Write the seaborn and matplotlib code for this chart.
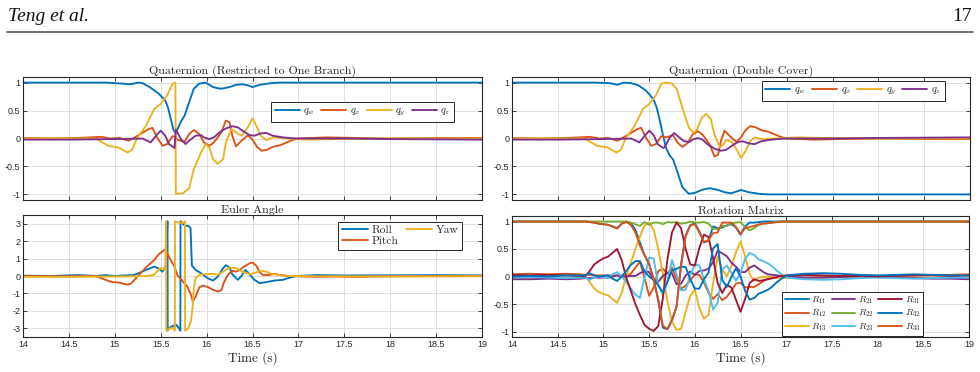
import numpy as np
import pandas as pd
import matplotlib
matplotlib.use("Agg")
import matplotlib.pyplot as plt
from matplotlib.lines import Line2D
import seaborn as sns

# ---------------- data ----------------
x_ticks = [14, 14.5, 15, 15.5, 16, 16.5, 17, 17.5, 18, 18.5, 19]
x_tick_labels = ["14", "14.5", "15", "15.5", "16", "16.5", "17", "17.5", "18", "18.5", "19"]
q_ticks = [-1, -0.5, 0, 0.5, 1]
q_tick_labels = ["-1", "-0.5", "0", "0.5", "1"]
e_ticks = [-3, -2, -1, 0, 1, 2, 3]

# Quaternion, restricted to one branch
qw_ob_t = [14.0, 14.5, 14.9, 15.0, 15.1, 15.15, 15.2, 15.26, 15.3, 15.37, 15.43, 15.48, 15.55, 15.58, 15.61, 15.64,
           15.66, 15.68, 15.72, 15.76, 15.81, 15.86, 15.92, 15.99, 16.07, 16.12, 16.16, 16.25, 16.32, 16.39, 16.45,
           16.5, 16.58, 16.7, 16.8, 19.0]
qw_ob = [1.0, 1.0, 1.0, 0.99, 0.98, 0.97, 0.98, 1.0, 0.99, 0.93, 0.86, 0.8, 0.68, 0.55, 0.35, 0.15,
         0.1, 0.16, 0.3, 0.41, 0.65, 0.89, 0.98, 1.0, 0.92, 0.9, 0.89, 0.92, 0.96, 0.97, 0.95,
         0.92, 0.96, 0.99, 1.0, 1.0]
qx_t = [14.0, 14.3, 14.6, 14.85, 14.95, 15.05, 15.15, 15.25, 15.37, 15.41, 15.46, 15.52, 15.57, 15.63, 15.665,
        15.68, 15.72, 15.76, 15.81, 15.86, 15.92, 15.97, 16.03, 16.08, 16.16, 16.21, 16.25, 16.28, 16.32, 16.38,
        16.45, 16.5, 16.55, 16.6, 16.66, 16.72, 16.8, 16.86, 16.93, 17.0, 17.3, 17.6, 18.0, 18.5, 19.0]
qx_ob = [0.01, 0.0, 0.01, 0.03, 0.0, 0.01, -0.04, 0.05, 0.17, 0.19, 0.02, -0.13, -0.1, 0.04, 0.03,
         -0.02, -0.04, -0.06, 0.08, 0.15, 0.08, -0.07, -0.13, -0.07, 0.11, 0.32, 0.29, 0.05, -0.14, -0.04,
         0.06, -0.02, -0.15, -0.22, -0.2, -0.15, -0.12, -0.08, -0.03, 0.0, 0.02, 0.01, 0.0, 0.01, 0.01]
qy_ob_t = [14.0, 14.5, 14.79, 14.93, 15.04, 15.14, 15.19, 15.24, 15.34, 15.43, 15.5, 15.57, 15.63, 15.66, 15.665,
           15.74, 15.81, 15.86, 15.94, 15.99, 16.03, 16.07, 16.12, 16.18, 16.21, 16.27, 16.32, 16.38, 16.45, 16.5,
           16.54, 16.59, 16.65, 16.72, 16.9, 17.1, 17.4, 18.0, 19.0]
qy_ob = [0.0, 0.0, 0.0, -0.13, -0.16, -0.25, -0.2, 0.0, 0.23, 0.53, 0.62, 0.77, 0.98, 1.0, -0.99,
         -0.98, -0.89, -0.55, -0.25, -0.1, -0.16, -0.37, -0.45, -0.37, -0.07, 0.17, 0.11, 0.05, 0.2, 0.36,
         0.23, 0.05, -0.03, 0.02, 0.0, -0.02, -0.01, 0.0, 0.0]
qz_t = [14.0, 14.5, 15.0, 15.3, 15.34, 15.39, 15.45, 15.5, 15.55, 15.59, 15.65, 15.665, 15.72, 15.77, 15.81,
        15.88, 15.94, 15.97, 16.03, 16.08, 16.14, 16.21, 16.28, 16.34, 16.39, 16.47, 16.52, 16.59, 16.65, 16.72,
        16.83, 16.98, 17.5, 18.0, 19.0]
qz_ob = [-0.02, -0.02, -0.01, 0.0, -0.03, -0.07, 0.05, 0.14, 0.05, -0.1, -0.17, 0.16, -0.01, -0.1, -0.04,
         0.05, 0.06, 0.02, -0.01, 0.02, 0.11, 0.18, 0.22, 0.2, 0.14, 0.06, 0.05, 0.09, 0.1, 0.05,
         0.02, 0.0, 0.0, -0.01, -0.02]

# Quaternion, double cover
qw_dc_t = [14.0, 14.9, 15.07, 15.15, 15.22, 15.3, 15.38, 15.46, 15.51, 15.55, 15.58, 15.61, 15.64, 15.68, 15.72,
           15.76, 15.8, 15.86, 15.93, 16.0, 16.07, 16.12, 16.16, 16.25, 16.32, 16.39, 16.45, 16.5, 16.58, 16.7,
           16.8, 19.0]
qw_dc = [1.0, 1.0, 0.99, 0.96, 1.0, 0.99, 0.95, 0.86, 0.77, 0.68, 0.55, 0.35, 0.12, -0.16, -0.3,
         -0.38, -0.57, -0.87, -0.99, -0.97, -0.92, -0.9, -0.89, -0.92, -0.96, -0.98, -0.95, -0.92, -0.96, -0.99,
         -1.0, -1.0]
qx_dc = [0.01, 0.0, 0.01, 0.03, 0.0, 0.01, -0.04, 0.05, 0.17, 0.19, 0.02, -0.13, -0.1, 0.04, 0.03,
         0.02, 0.04, 0.06, -0.08, -0.15, -0.08, 0.07, 0.13, 0.07, -0.11, -0.32, -0.29, -0.05, 0.14, 0.04,
         -0.06, 0.02, 0.15, 0.22, 0.2, 0.15, 0.12, 0.08, 0.03, 0.0, -0.02, -0.01, 0.0, -0.01, -0.01]
qy_dc_t = [14.0, 14.5, 14.79, 14.93, 15.04, 15.14, 15.19, 15.24, 15.34, 15.43, 15.5, 15.57, 15.63, 15.68, 15.75,
           15.8, 15.86, 15.93, 15.98, 16.02, 16.07, 16.12, 16.17, 16.21, 16.27, 16.31, 16.34, 16.4, 16.46, 16.5,
           16.55, 16.6, 16.65, 16.72, 16.9, 17.1, 17.4, 18.0, 19.0]
qy_dc = [0.0, 0.0, 0.0, -0.13, -0.16, -0.25, -0.2, 0.0, 0.23, 0.53, 0.62, 0.77, 0.98, 1.0, 0.98,
         0.88, 0.55, 0.2, 0.1, 0.16, 0.37, 0.44, 0.35, 0.07, -0.16, -0.1, -0.03, -0.06, -0.22, -0.35,
         -0.22, -0.05, 0.02, -0.01, 0.0, 0.02, 0.01, 0.0, 0.0]
qz_dc = [-0.02, -0.02, -0.01, 0.0, -0.03, -0.07, 0.05, 0.14, 0.05, -0.1, -0.17, -0.16, 0.01, 0.1, 0.04,
         -0.05, -0.06, -0.02, 0.01, -0.02, -0.11, -0.18, -0.22, -0.2, -0.14, -0.06, -0.05, -0.09, -0.1, -0.05,
         -0.02, 0.0, 0.0, 0.01, 0.02]

# Euler angles (rad)
roll_t = [14.0, 14.3, 14.6, 14.8, 14.9, 15.0, 15.1, 15.2, 15.26, 15.34, 15.43, 15.47, 15.52, 15.555, 15.574,
          15.576, 15.6, 15.64, 15.67, 15.7, 15.714, 15.716, 15.76, 15.81, 15.825, 15.84, 15.88, 15.94, 16.01,
          16.07, 16.12, 16.18, 16.21, 16.25, 16.28, 16.34, 16.38, 16.42, 16.46, 16.52, 16.58, 16.65, 16.74,
          16.83, 16.9, 16.98, 17.2, 17.5, 18.0, 18.5, 19.0]
roll = [0.02, 0.0, 0.05, 0.0, 0.05, 0.0, 0.03, 0.05, 0.16, 0.35, 0.54, 0.45, 0.25, 0.5, 3.14,
        -3.14, -2.95, -2.85, -2.8, -3.0, -3.14, 3.14, 2.9, 2.85, 2.75, 0.6, 0.35, 0.16, -0.12,
        -0.26, -0.05, 0.45, 0.62, 0.49, 0.1, -0.22, 0.0, 0.35, 0.15, -0.22, -0.41, -0.35, -0.26,
        -0.22, -0.1, 0.0, 0.05, 0.03, 0.04, 0.05, 0.03]
pitch_t = [14.0, 14.5, 14.79, 14.9, 14.97, 15.04, 15.14, 15.18, 15.23, 15.28, 15.35, 15.43, 15.48, 15.54, 15.56,
           15.59, 15.65, 15.68, 15.74, 15.79, 15.83, 15.85, 15.88, 15.92, 15.96, 16.01, 16.07, 16.12, 16.16,
           16.19, 16.23, 16.28, 16.32, 16.36, 16.41, 16.47, 16.5, 16.54, 16.58, 16.61, 16.67, 16.74, 16.81,
           16.9, 17.2, 17.4, 17.6, 18.0, 19.0]
pitch = [0.0, -0.02, 0.0, -0.22, -0.35, -0.37, -0.5, -0.42, -0.12, 0.16, 0.54, 0.92, 1.25, 1.5, 1.45,
         1.1, 0.54, 0.07, -0.31, -0.6, -1.08, -1.45, -1.2, -0.65, -0.55, -0.62, -0.79, -0.89, -0.82,
         -0.35, 0.05, 0.3, 0.25, 0.35, 0.54, 0.73, 0.77, 0.6, 0.22, 0.07, 0.05, 0.12, 0.05,
         0.0, -0.05, -0.03, -0.05, -0.02, 0.0]
yaw_t = [14.0, 14.5, 14.9, 15.2, 15.35, 15.42, 15.46, 15.5, 15.53, 15.55, 15.559, 15.561, 15.6, 15.64, 15.654,
         15.656, 15.7, 15.75, 15.764, 15.766, 15.8, 15.83, 15.85, 15.86, 15.88, 15.92, 15.97, 16.07, 16.12,
         16.18, 16.25, 16.32, 16.39, 16.47, 16.54, 16.59, 16.65, 16.72, 16.9, 17.2, 19.0]
yaw = [-0.05, -0.05, -0.03, -0.02, 0.0, 0.05, 0.25, 0.45, 0.35, 0.6, 3.14, -3.14, -3.0, -3.0, -3.14,
       3.14, 3.05, 3.05, 3.14, -3.14, -3.0, -2.6, -1.65, -0.7, -0.12, 0.07, 0.1, 0.12, 0.07,
       0.25, 0.49, 0.45, 0.25, 0.1, 0.2, 0.3, 0.25, 0.1, 0.0, -0.02, -0.02]

# Rotation matrix elements (common time base)
r_t = [14.0, 14.2, 14.4, 14.6, 14.75,
       14.8, 14.85, 14.9, 14.95, 15.0, 15.05, 15.1, 15.15, 15.2, 15.25, 15.3, 15.35, 15.4, 15.45, 15.5,
       15.55, 15.6, 15.65, 15.7, 15.75, 15.8, 15.85, 15.9, 15.95, 16.0, 16.05, 16.1, 16.15, 16.2, 16.25,
       16.3, 16.35, 16.4, 16.45, 16.5, 16.55, 16.6, 16.65, 16.7, 16.75, 16.8, 16.85, 16.9, 16.95, 17.0,
       17.2, 17.4, 17.6, 17.8, 18.0, 18.2, 18.4, 18.6, 18.8, 19.0]
R11 = [1.0, 1.0, 1.0, 1.0, 1.0,
       1.0, 0.99, 0.98, 0.96, 0.95, 0.94, 0.91, 0.88, 0.96, 1.0, 0.97, 0.85, 0.62, 0.39, 0.22,
       -0.04, -0.44, -0.93, -0.96, -0.8, -0.55, 0.23, 0.75, 0.93, 0.97, 0.82, 0.62, 0.65, 0.91, 0.88,
       0.89, 0.93, 0.95, 0.89, 0.76, 0.91, 0.98, 0.98, 0.99, 1.0, 1.0, 1.0, 1.0, 1.0, 1.0,
       1.0, 1.0, 1.0, 1.0, 1.0, 1.0, 1.0, 1.0, 1.0, 1.0]
R12 = [0.04, 0.05, 0.04, 0.05, 0.04,
       0.03, 0.03, 0.02, 0.02, 0.02, 0.02, 0.02, 0.02, 0.0, 0.0, 0.05, 0.16, 0.27, -0.03, -0.35,
       -0.2, 0.1, 0.14, 0.05, 0.16, -0.04, -0.22, -0.17, -0.07, 0.03, 0.03, -0.11, -0.29, -0.41, -0.32,
       -0.43, -0.37, -0.26, -0.13, -0.11, -0.2, -0.19, -0.19, -0.14, -0.08, -0.04, -0.03, -0.02, -0.01, 0.0,
       0.02, 0.01, 0.0, -0.01, 0.0, 0.01, 0.02, 0.03, 0.03, 0.04]
R13 = [-0.03, -0.02, -0.03, -0.02, -0.01,
       0.0, -0.1, -0.22, -0.28, -0.32, -0.34, -0.41, -0.48, -0.3, 0.02, 0.25, 0.5, 0.73, 0.93, 0.98,
       0.85, 0.5, 0.05, -0.45, -0.82, -0.97, -0.95, -0.64, -0.35, -0.24, -0.57, -0.77, -0.7, -0.12, 0.36,
       0.13, 0.0, 0.19, 0.44, 0.64, 0.37, 0.04, -0.08, -0.02, -0.01, 0.0, -0.01, -0.02, -0.02, -0.03,
       -0.03, -0.02, -0.01, -0.01, 0.0, -0.01, -0.02, -0.02, -0.01, -0.02]
R21 = [-0.05, -0.05, -0.04, -0.05, -0.04,
       -0.03, -0.03, -0.02, -0.02, -0.02, -0.02, 0.0, 0.02, 0.0, 0.0, 0.01, 0.01, 0.06, 0.1, 0.08,
       -0.07, -0.1, 0.01, 0.07, 0.06, -0.14, -0.13, 0.02, 0.09, 0.03, 0.1, 0.11, 0.14, 0.26, 0.47,
       0.42, 0.37, 0.25, 0.18, 0.08, 0.08, 0.16, 0.2, 0.14, 0.08, 0.04, 0.03, 0.02, 0.01, 0.0,
       -0.02, -0.02, -0.01, 0.0, -0.01, -0.02, -0.03, -0.04, -0.04, -0.05]
R22 = [1.0, 1.0, 1.0, 1.0, 1.0,
       1.0, 1.0, 1.0, 1.0, 1.0, 1.0, 1.0, 1.0, 1.0, 1.0, 0.98, 0.95, 0.92, 0.99, 0.94,
       0.98, 0.98, 0.95, 0.99, 0.98, 0.99, 0.96, 0.97, 1.0, 0.98, 0.98, 0.99, 0.96, 0.87, 0.86,
       0.92, 0.92, 0.97, 0.98, 0.99, 0.9, 0.84, 0.88, 0.94, 0.96, 0.97, 0.98, 0.99, 1.0, 1.0,
       1.0, 1.0, 1.0, 1.0, 1.0, 1.0, 1.0, 1.0, 1.0, 1.0]
R23 = [-0.02, -0.01, -0.02, -0.03, -0.02,
       -0.02, -0.06, -0.02, 0.0, -0.01, -0.02, 0.04, 0.08, 0.0, -0.1, -0.22, -0.33, -0.39, -0.01, 0.34,
       0.33, -0.16, -0.33, -0.09, 0.3, 0.04, -0.25, -0.24, 0.02, 0.22, 0.2, -0.05, -0.26, -0.6, -0.48,
       0.13, 0.2, 0.07, -0.08, 0.07, 0.32, 0.43, 0.39, 0.31, 0.28, 0.24, 0.18, 0.1, 0.04, -0.02,
       -0.05, -0.06, -0.05, -0.03, -0.02, -0.03, -0.04, -0.03, -0.02, -0.02]
R31 = [0.03, 0.02, 0.03, 0.02, 0.01,
       0.0, 0.1, 0.22, 0.28, 0.33, 0.36, 0.43, 0.5, 0.3, -0.02, -0.26, -0.5, -0.7, -0.88, -0.95,
       -0.99, -0.9, -0.4, 0.3, 0.8, 0.98, 0.88, 0.5, 0.22, 0.2, 0.52, 0.76, 0.72, 0.33, -0.12,
       -0.3, -0.15, -0.2, -0.42, -0.64, -0.41, -0.12, -0.05, -0.08, -0.07, -0.05, -0.03, -0.01, 0.01, 0.02,
       0.03, 0.02, 0.01, 0.01, 0.0, 0.01, 0.02, 0.02, 0.01, 0.02]
R32 = [0.0, 0.01, 0.0, 0.02, 0.02,
       0.02, 0.06, 0.02, 0.0, 0.01, 0.02, -0.04, -0.08, 0.0, 0.1, 0.21, 0.28, 0.28, 0.09, 0.0,
       -0.06, -0.16, -0.29, -0.1, 0.11, 0.14, 0.18, 0.17, -0.05, -0.22, -0.22, -0.05, 0.07, 0.51, 0.59,
       -0.06, -0.19, -0.01, 0.15, 0.0, -0.26, -0.42, -0.39, -0.31, -0.28, -0.24, -0.18, -0.1, -0.04, 0.02,
       0.05, 0.06, 0.05, 0.03, 0.02, 0.03, 0.04, 0.03, 0.02, 0.02]
R33 = [1.0, 1.0, 1.0, 1.0, 1.0,
       1.0, 0.99, 0.98, 0.96, 0.95, 0.94, 0.91, 0.87, 0.96, 0.99, 0.94, 0.8, 0.56, 0.39, 0.23,
       -0.06, -0.42, -0.89, -0.96, -0.79, -0.55, 0.19, 0.73, 0.93, 0.95, 0.8, 0.63, 0.66, 0.79, 0.8,
       0.98, 0.98, 0.98, 0.9, 0.77, 0.88, 0.9, 0.92, 0.95, 0.96, 0.97, 0.98, 0.99, 1.0, 1.0,
       1.0, 1.0, 1.0, 1.0, 1.0, 1.0, 1.0, 1.0, 1.0, 1.0]

# ---------------- style ----------------
sns.set_theme(style="white")
plt.rcParams["font.family"] = ["Liberation Sans", "DejaVu Sans"]
plt.rcParams["mathtext.fontset"] = "cm"
plt.rcParams["axes.unicode_minus"] = False

BLUE, ORANGE, YELLOW = "#0072BD", "#D95319", "#EDB120"
PURPLE, GREEN, CYAN, DRED = "#7E2F8E", "#77AC30", "#4DBEEE", "#A2142F"
DARK = "#262626"
LW = 1.35

fig = plt.figure(figsize=(9.8, 3.72), dpi=100)
W, H = 980.0, 372.0


def make_ax(x0, x1, y0, y1):
    return fig.add_axes([x0 / W, 1 - y1 / H, (x1 - x0) / W, (y1 - y0) / H])


ax_tl = make_ax(23, 482, 77, 200)
ax_tr = make_ax(512, 970, 77, 200)
ax_bl = make_ax(23, 482, 215, 337)
ax_br = make_ax(512, 969, 216, 337)


def style_ax(ax, title, yticks, ylabels, ylim, show_x):
    ax.set_xlim(14, 19)
    ax.set_ylim(*ylim)
    ax.set_xticks(x_ticks)
    ax.set_yticks(yticks)
    ax.set_yticklabels(ylabels)
    if show_x:
        ax.set_xticklabels(x_tick_labels)
        ax.set_xlabel("Time (s)", family="cmr10", fontsize=9.5, color=DARK, labelpad=1.5)
    else:
        ax.set_xticklabels([])
    ax.grid(True, color="#dedede", linewidth=0.7)
    ax.set_axisbelow(True)
    for s in ax.spines.values():
        s.set_color(DARK)
        s.set_linewidth(0.8)
        s.set_visible(True)
    ax.tick_params(direction="in", top=True, right=True, length=3, width=0.6,
                   colors=DARK, labelsize=6.5, pad=2, bottom=True, left=True)
    ax.set_title(title, family="cmr10", fontsize=8.6, color=DARK, pad=1.5)


def draw(ax, t, v, color):
    sns.lineplot(x=t, y=v, ax=ax, color=color, linewidth=LW, estimator=None,
                 sort=False, legend=False)


def add_legend(ax, labels, colors, ncol, loc, anchor, fontsize, prop_family=None, **kw):
    handles = [Line2D([0], [0], color=c, linewidth=LW) for c in colors]
    prop = {"size": fontsize}
    if prop_family:
        prop["family"] = prop_family
    leg = ax.legend(handles, labels, ncol=ncol, loc=loc, bbox_to_anchor=anchor,
                    frameon=True, fancybox=False, framealpha=1, edgecolor=DARK,
                    prop=prop, borderaxespad=0, **kw)
    leg.get_frame().set_linewidth(0.7)
    return leg


# Top-left
for t, v, c in [(qw_ob_t, qw_ob, BLUE), (qx_t, qx_ob, ORANGE), (qy_ob_t, qy_ob, YELLOW), (qz_t, qz_ob, PURPLE)]:
    draw(ax_tl, t, v, c)
style_ax(ax_tl, "Quaternion (Restricted to One Branch)", q_ticks, q_tick_labels, (-1.1, 1.1), False)
add_legend(ax_tl, [r"$q_w$", r"$q_x$", r"$q_y$", r"$q_z$"], [BLUE, ORANGE, YELLOW, PURPLE], 4,
           "upper right", (0.939, 0.80), 7.5, handlelength=2.4, columnspacing=0.6,
           handletextpad=0.35, borderpad=0.35)

# Top-right
for t, v, c in [(qw_dc_t, qw_dc, BLUE), (qx_t, qx_dc, ORANGE), (qy_dc_t, qy_dc, YELLOW), (qz_t, qz_dc, PURPLE)]:
    draw(ax_tr, t, v, c)
style_ax(ax_tr, "Quaternion (Double Cover)", q_ticks, q_tick_labels, (-1.1, 1.1), False)
add_legend(ax_tr, [r"$q_w$", r"$q_x$", r"$q_y$", r"$q_z$"], [BLUE, ORANGE, YELLOW, PURPLE], 4,
           "upper right", (0.945, 0.97), 7.5, handlelength=2.4, columnspacing=0.6,
           handletextpad=0.35, borderpad=0.35)

# Bottom-left
for t, v, c in [(roll_t, roll, BLUE), (pitch_t, pitch, ORANGE), (yaw_t, yaw, YELLOW)]:
    draw(ax_bl, t, v, c)
style_ax(ax_bl, "Euler Angle", e_ticks, [str(v) for v in e_ticks], (-3.5, 3.5), True)
add_legend(ax_bl, ["Roll", "Pitch", "Yaw"], [BLUE, ORANGE, YELLOW], 2,
           "upper right", (0.956, 0.945), 8.3, prop_family="cmr10", handlelength=2.3,
           columnspacing=0.6, handletextpad=0.3, borderpad=0.3, labelspacing=0.1)

# Bottom-right
r_series = [(R11, BLUE), (R12, ORANGE), (R13, YELLOW), (R21, PURPLE), (R22, GREEN),
            (R23, CYAN), (R31, DRED), (R32, BLUE), (R33, ORANGE)]
for v, c in r_series:
    draw(ax_br, r_t, v, c)
style_ax(ax_br, "Rotation Matrix", q_ticks, q_tick_labels, (-1.1, 1.1), True)
add_legend(ax_br, [r"$R_{11}$", r"$R_{12}$", r"$R_{13}$", r"$R_{21}$", r"$R_{22}$", r"$R_{23}$",
                   r"$R_{31}$", r"$R_{32}$", r"$R_{33}$"],
           [c for _, c in r_series], 3, "lower right", (0.90, 0.01), 6.8,
           handlelength=2.5, columnspacing=0.5, handletextpad=0.3, borderpad=0.3,
           labelspacing=0.2)

# Header
fig.text(8 / W, 1 - 21 / H, "Teng et al.", family="Liberation Serif", style="italic",
         fontsize=14, color="#111111", va="baseline", ha="left")
fig.text(972 / W, 1 - 21 / H, "17", family="Liberation Serif", fontsize=14,
         color="#111111", va="baseline", ha="right")
fig.add_artist(Line2D([7 / W, 973 / W], [1 - 32 / H, 1 - 32 / H], color="#555555",
                      linewidth=1.2, transform=fig.transFigure))

fig.savefig("out.png", dpi=100)
